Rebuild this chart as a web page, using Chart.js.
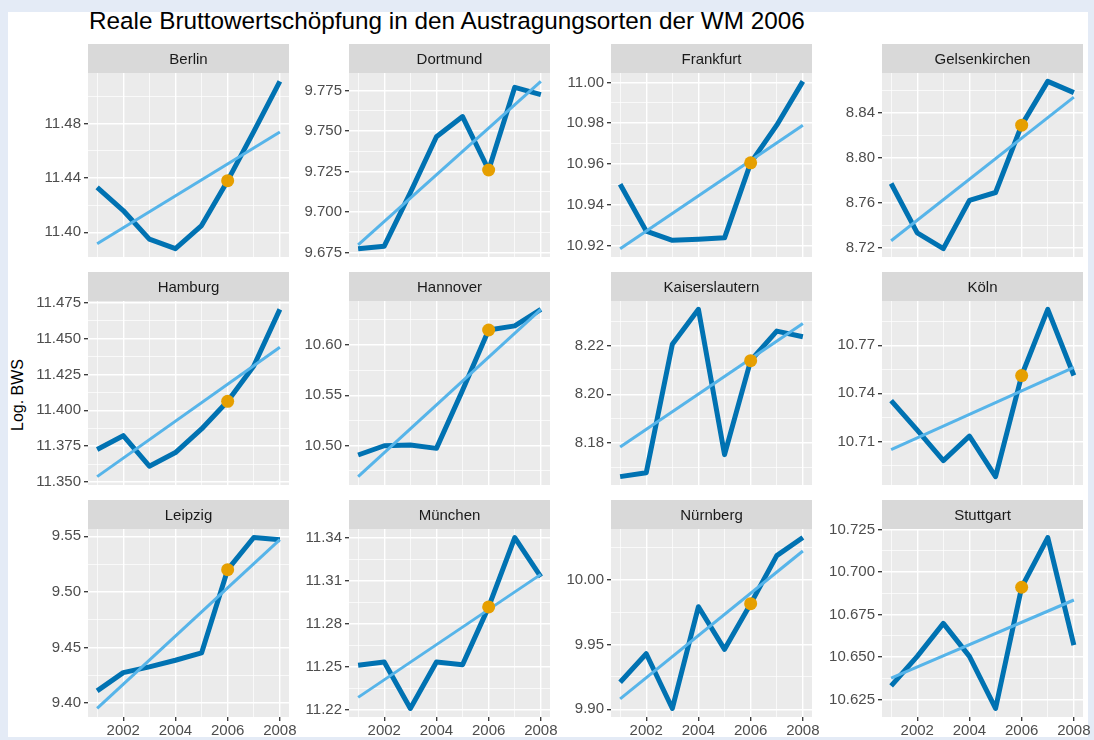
<!DOCTYPE html>
<html>
<head>
<meta charset="utf-8">
<script src="https://cdn.jsdelivr.net/npm/chart.js@4.4.1/dist/chart.umd.min.js"></script>
<style>
  html, body { margin: 0; padding: 0; }
  body { width: 1094px; height: 740px; background: #e4ebf6; position: relative; overflow: hidden; font-family: "Liberation Sans", Arial, sans-serif; }
  #sheet { position: absolute; left: 8px; top: 12px; width: 1080px; height: 725px; background: #fff; }
  #title { position: absolute; left: 89px; top: 9px; font-size: 24.3px; line-height: 24px; color: #000; white-space: nowrap; }
  #ylab { position: absolute; left: 18px; top: 395px; font-size: 16px; color: #000; white-space: nowrap; transform: translate(-50%, -50%) rotate(-90deg); }
  canvas { position: absolute; }
</style>
</head>
<body>
<div id="sheet"></div>
<div id="title">Reale Bruttowertschöpfung in den Austragungsorten der WM 2006</div>
<div id="ylab">Log. BWS</div>
<script>
const years = [2001, 2002, 2003, 2004, 2005, 2006, 2007, 2008];
const xBreaks = [2002, 2004, 2006, 2008];
const cities = ['Berlin', 'Dortmund', 'Frankfurt', 'Gelsenkirchen', 'Hamburg', 'Hannover',
  'Kaiserslautern', 'Köln', 'Leipzig', 'München', 'Nürnberg', 'Stuttgart'];

// log. Bruttowertschöpfung per year
const berlin = [11.433, 11.416, 11.395, 11.388, 11.405, 11.438, 11.474, 11.511];
const dortmund = [9.6775, 9.679, 9.712, 9.7465, 9.759, 9.726, 9.777, 9.7725];
const frankfurt = [10.950, 10.927, 10.9225, 10.923, 10.9237, 10.9605, 10.979, 11.0005];
const gelsenkirchen = [8.777, 8.733, 8.719, 8.762, 8.769, 8.829, 8.868, 8.858];
const hamburg = [11.3727, 11.3823, 11.361, 11.3705, 11.387, 11.4063, 11.431, 11.4705];
const hannover = [10.4907, 10.4999, 10.5007, 10.4973, 10.555, 10.6149, 10.619, 10.6354];
const kaiserslautern = [8.1663, 8.1679, 8.2205, 8.2348, 8.1753, 8.2138, 8.2259, 8.2236];
const koeln = [10.7355, 10.717, 10.698, 10.7133, 10.688, 10.7511, 10.7924, 10.7511];
const leipzig = [9.4108, 9.4273, 9.4324, 9.4384, 9.445, 9.52, 9.5489, 9.547];
const muenchen = [11.2512, 11.2535, 11.2212, 11.2535, 11.2516, 11.2918, 11.34, 11.3126];
const nuernberg = [9.9209, 9.943, 9.9006, 9.9794, 9.9464, 9.9818, 10.019, 10.033];
const stuttgart = [10.633, 10.6504, 10.6698, 10.6504, 10.6197, 10.6911, 10.7204, 10.657];

// linear trend, value at 2001 and 2008
const trend2001 = [11.3916, 9.6798, 10.9184, 8.726, 11.3537, 10.4692, 8.1784, 10.7049, 9.395, 11.2289, 9.908, 10.6375];
const trend2008 = [11.4738, 9.7807, 10.979, 8.854, 11.4441, 10.6354, 8.229, 10.7562, 9.547, 11.3144, 10.0226, 10.6836];

// major y break spacing per panel
const yBreaks = [0.04, 0.025, 0.02, 0.04, 0.025, 0.05, 0.02, 0.03, 0.05, 0.03, 0.05, 0.025];

const series = [berlin, dortmund, frankfurt, gelsenkirchen, hamburg, hannover,
  kaiserslautern, koeln, leipzig, muenchen, nuernberg, stuttgart];

const COL_LEFT = [88, 349, 611, 882];
const ROW_TOP = [44, 272, 500];
const PLOT_W = 201, PLOT_H = 188, STRIP_H = 29, AXIS_W = 62, PAD_R = 14;
const FONT = '"Liberation Sans", Arial, sans-serif';

Chart.defaults.font.family = FONT;

function onStep(v, step) {
  const r = v / step;
  return Math.abs(r - Math.round(r)) < 1e-6;
}

// every multiple of step inside the scale range (major + minor grid)
function gridTicks(scale, step) {
  const ticks = [];
  for (let k = Math.ceil(scale.min / step - 1e-9); k * step <= scale.max + 1e-9; k++) {
    ticks.push({ value: +(k * step).toFixed(6) });
  }
  scale.ticks = ticks;
}

// grey facet strip + panel background
const stripPlugin = {
  id: 'strip',
  beforeDraw(chart, args, opts) {
    const { ctx, chartArea: a } = chart;
    ctx.save();
    ctx.fillStyle = '#D9D9D9';
    ctx.fillRect(a.left, a.top - STRIP_H, a.right - a.left, STRIP_H);
    ctx.fillStyle = '#EBEBEB';
    ctx.fillRect(a.left, a.top, a.right - a.left, a.bottom - a.top);
    ctx.fillStyle = '#1A1A1A';
    ctx.font = '15px ' + FONT;
    ctx.textAlign = 'center';
    ctx.textBaseline = 'middle';
    ctx.fillText(opts.text, (a.left + a.right) / 2, a.top - STRIP_H / 2 + 1);
    ctx.restore();
  }
};

series.forEach((vals, i) => {
  const row = Math.floor(i / 4), col = i % 4;
  const bottomRow = row === 2;
  const major = yBreaks[i];
  const minor = major / 2;
  const dec = String(major).split('.')[1].length;

  const all = vals.concat([trend2001[i], trend2008[i]]);
  const lo = Math.min(...all), hi = Math.max(...all);
  const pad = (hi - lo) * 0.05;

  const w = AXIS_W + PLOT_W + PAD_R;
  const h = STRIP_H + PLOT_H + (bottomRow ? 26 : 8);
  const cv = document.createElement('canvas');
  cv.width = w; cv.height = h;
  cv.style.width = w + 'px'; cv.style.height = h + 'px';
  cv.style.left = (COL_LEFT[col] - AXIS_W) + 'px';
  cv.style.top = ROW_TOP[row] + 'px';
  document.body.appendChild(cv);

  new Chart(cv, {
    type: 'line',
    data: {
      datasets: [
        {
          data: [{ x: years[5], y: vals[5] }],
          showLine: false,
          pointRadius: 6.5,
          pointBackgroundColor: '#E69F00',
          pointBorderWidth: 0,
          order: 0
        },
        {
          data: [{ x: years[0], y: trend2001[i] }, { x: years[7], y: trend2008[i] }],
          borderColor: '#56B4E9',
          borderWidth: 3,
          pointRadius: 0,
          order: 1
        },
        {
          data: years.map((yr, k) => ({ x: yr, y: vals[k] })),
          borderColor: '#0072B2',
          borderWidth: 5,
          borderJoinStyle: 'round',
          pointRadius: 0,
          order: 2
        }
      ]
    },
    options: {
      responsive: false,
      animation: false,
      events: [],
      layout: { padding: { top: STRIP_H, right: PAD_R, bottom: bottomRow ? 0 : 8, left: 0 } },
      plugins: {
        legend: { display: false },
        tooltip: { enabled: false },
        strip: { text: cities[i] }
      },
      scales: {
        x: {
          type: 'linear',
          min: 2000.65,
          max: 2008.35,
          afterBuildTicks: s => gridTicks(s, 1),
          afterFit: s => { s.height = bottomRow ? 26 : 0; },
          border: { display: false },
          grid: {
            color: '#FFFFFF',
            lineWidth: c => (c.tick && xBreaks.includes(c.tick.value)) ? 1.4 : 0.7,
            drawTicks: bottomRow,
            tickLength: 4,
            tickWidth: 1.3,
            tickColor: c => (c.tick && xBreaks.includes(c.tick.value)) ? '#333333' : 'rgba(0,0,0,0)'
          },
          ticks: {
            display: bottomRow,
            stepSize: 1,
            autoSkip: false,
            maxRotation: 0,
            padding: 1,
            color: '#4D4D4D',
            font: { size: 15 },
            callback: v => xBreaks.includes(v) ? String(v) : ''
          }
        },
        y: {
          type: 'linear',
          min: lo - pad,
          max: hi + pad,
          afterBuildTicks: s => gridTicks(s, minor),
          afterFit: s => { s.width = AXIS_W; },
          border: { display: false },
          grid: {
            color: '#FFFFFF',
            lineWidth: c => (c.tick && onStep(c.tick.value, major)) ? 1.4 : 0.7,
            tickLength: 4,
            tickWidth: 1.3,
            tickColor: c => (c.tick && onStep(c.tick.value, major)) ? '#333333' : 'rgba(0,0,0,0)'
          },
          ticks: {
            stepSize: minor,
            autoSkip: false,
            padding: 3,
            color: '#4D4D4D',
            font: { size: 15 },
            callback: v => onStep(v, major) ? v.toFixed(dec) : ''
          }
        }
      }
    },
    plugins: [stripPlugin]
  });
});
</script>
</body>
</html>
